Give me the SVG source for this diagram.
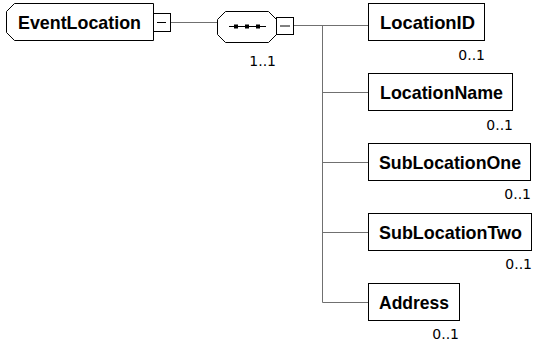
<svg xmlns="http://www.w3.org/2000/svg" width="535" height="343" viewBox="0 0 535 343">
<style>
.box{fill:#fff;stroke:#000;stroke-width:1}
.conn{fill:none;stroke:#707070;stroke-width:1}
.minus{fill:none;stroke:#000;stroke-width:1}
.lbl{font-family:"Liberation Sans",Arial,sans-serif;font-weight:bold;font-size:18.5px;fill:#000}
.card{font-family:"DejaVu Sans",Verdana,sans-serif;font-size:14px;fill:#000;text-anchor:end}
</style>
<rect width="535" height="343" fill="#fff"/>
<g id="connectors">
<path class="conn" d="M171,22.5 H217"/>
<path class="conn" d="M294,25.5 H368"/>
<path class="conn" d="M322.5,25.5 V302.5"/>
<path class="conn" d="M322.5,92.5 H368"/>
<path class="conn" d="M322.5,162.5 H368"/>
<path class="conn" d="M322.5,232.5 H368"/>
<path class="conn" d="M322.5,302.5 H368"/>
</g>
<g id="EventLocation">
<path class="box" d="M14.5,3.5 H153.5 V40.5 H14.5 L6.5,32.5 V11.5 Z"/>
<text class="lbl" x="18" y="29" textLength="123" lengthAdjust="spacingAndGlyphs">EventLocation</text>
<rect class="box" x="153.5" y="13.5" width="17" height="18"/>
<path class="minus" d="M157,22.5 H166"/>
</g>
<g id="sequence">
<path class="box" d="M225.5,11.5 H268.5 L276.5,19.5 V34.5 L268.5,42.5 H225.5 L217.5,34.5 V19.5 Z"/>
<path class="minus" d="M229,26.5 H266"/>
<rect x="234" y="24.5" width="4" height="4" fill="#000"/>
<rect x="245" y="24.5" width="4" height="4" fill="#000"/>
<rect x="256" y="24.5" width="4" height="4" fill="#000"/>
<rect class="box" x="276.5" y="17.5" width="17" height="17"/>
<path class="minus" d="M280,26 H290"/>
<text class="card" x="276" y="66">1..1</text>
</g>
<g id="LocationID">
<rect class="box" x="368.5" y="3.5" width="116" height="37"/>
<text class="lbl" x="380" y="29" textLength="95" lengthAdjust="spacingAndGlyphs">LocationID</text>
<text class="card" x="485" y="60">0..1</text>
</g>
<g id="LocationName">
<rect class="box" x="368.5" y="73.5" width="144" height="37"/>
<text class="lbl" x="380" y="99" textLength="123" lengthAdjust="spacingAndGlyphs">LocationName</text>
<text class="card" x="513" y="130">0..1</text>
</g>
<g id="SubLocationOne">
<rect class="box" x="368.5" y="143.5" width="162" height="37"/>
<text class="lbl" x="379" y="169" textLength="142" lengthAdjust="spacingAndGlyphs">SubLocationOne</text>
<text class="card" x="531" y="199">0..1</text>
</g>
<g id="SubLocationTwo">
<rect class="box" x="368.5" y="213.5" width="163" height="37"/>
<text class="lbl" x="379" y="239" textLength="143" lengthAdjust="spacingAndGlyphs">SubLocationTwo</text>
<text class="card" x="532" y="269">0..1</text>
</g>
<g id="Address">
<rect class="box" x="368.5" y="283.5" width="91" height="37"/>
<text class="lbl" x="379" y="309" textLength="70" lengthAdjust="spacingAndGlyphs">Address</text>
<text class="card" x="459" y="339">0..1</text>
</g>
</svg>
